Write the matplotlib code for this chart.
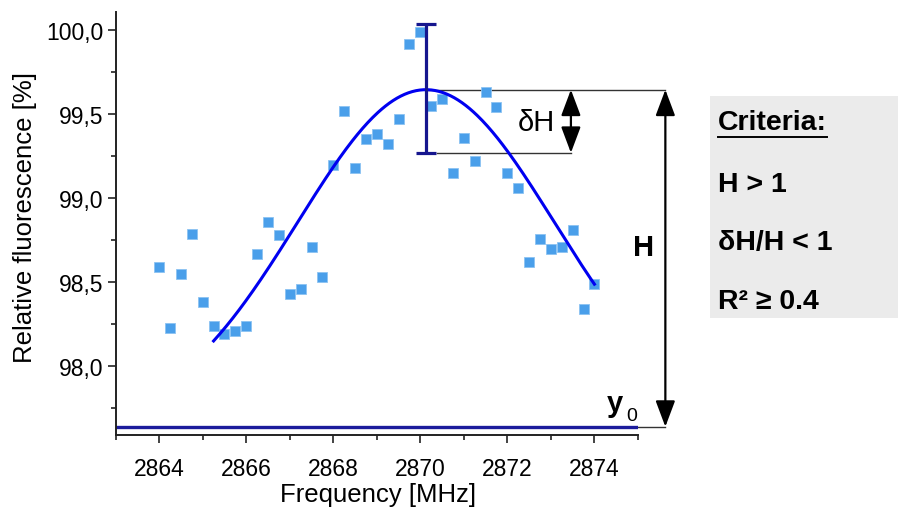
import matplotlib
matplotlib.use("Agg")
import matplotlib.pyplot as plt
from matplotlib.ticker import MultipleLocator, FuncFormatter
from matplotlib.lines import Line2D
from matplotlib.patches import Rectangle
import numpy as np

plt.rcParams['font.family'] = ['Liberation Sans', 'DejaVu Sans']

freq = [2864.0, 2864.25, 2864.5, 2864.75, 2865.0, 2865.25, 2865.5, 2865.75,
        2866.0, 2866.25, 2866.5, 2866.75, 2867.0, 2867.25, 2867.5, 2867.75,
        2868.0, 2868.25, 2868.5, 2868.75, 2869.0, 2869.25, 2869.5, 2869.75,
        2870.0, 2870.25, 2870.5, 2870.75, 2871.0, 2871.25, 2871.5, 2871.75,
        2872.0, 2872.25, 2872.5, 2872.75, 2873.0, 2873.25, 2873.5, 2873.75,
        2874.0]
fluor = [98.59, 98.23, 98.55, 98.79, 98.38, 98.24, 98.19, 98.21,
         98.24, 98.67, 98.86, 98.78, 98.43, 98.46, 98.71, 98.53,
         99.20, 99.52, 99.18, 99.35, 99.38, 99.32, 99.47, 99.92,
         99.99, 99.55, 99.59, 99.15, 99.36, 99.22, 99.63, 99.54,
         99.15, 99.06, 98.62, 98.76, 98.70, 98.71, 98.81, 98.34,
         98.49]

# gaussian fit parameters
fit_y0 = 97.64
fit_height = 2.006
fit_center = 2870.13
fit_sigma = 2.95
fit_range = [2865.25, 2874.0]

# error bar of the peak height
err_low = 99.27
err_high = 100.035

criteria = ["H > 1", "\u03b4H/H < 1", "R\u00b2 \u2265 0.4"]

fig = plt.figure(figsize=(8.98, 5.10), dpi=100)
ax = fig.add_axes([0.1288, 0.1451, 0.5816, 0.829])

peak = fit_y0 + fit_height
xf = np.linspace(fit_range[0], fit_range[1], 300)
yf = fit_y0 + fit_height * np.exp(-(xf - fit_center) ** 2 / (2 * fit_sigma ** 2))

ax.axhline(fit_y0, color='#1c1c9c', lw=2.4, zorder=2)
ax.plot(freq, fluor, 's', ms=7, color='#4a9fea', mec='#8cc3f2', mew=0.6, zorder=3)
ax.plot(xf, yf, color='#0000f0', lw=2.2, zorder=4)
ax.errorbar([fit_center], [peak], yerr=[[peak - err_low], [err_high - peak]],
            fmt='none', ecolor='#16168e', elinewidth=2.3, capsize=7.5, capthick=2.3, zorder=5)

ax.set_xlim(2863, 2875)
ax.set_ylim(97.591, 100.107)
ax.xaxis.set_major_locator(MultipleLocator(2))
ax.xaxis.set_minor_locator(MultipleLocator(1))
ax.yaxis.set_major_locator(MultipleLocator(0.5))
ax.yaxis.set_minor_locator(MultipleLocator(0.25))
ax.yaxis.set_major_formatter(FuncFormatter(lambda v, p: f"{v:.1f}".replace('.', ',')))
for s in ['top', 'right']:
    ax.spines[s].set_visible(False)
for s in ['left', 'bottom']:
    ax.spines[s].set_linewidth(1.4)
    ax.spines[s].set_color('#222222')
ax.tick_params(which='major', direction='out', length=6, width=1.2, labelsize=16.5, color='#222222')
ax.tick_params(which='minor', direction='out', length=3.5, width=1.2, color='#222222')
ax.tick_params(axis='y', pad=3)
ax.tick_params(axis='x', pad=10)
ax.set_xlabel('Frequency [MHz]', fontsize=18.5, va='center')
ax.set_ylabel('Relative fluorescence [%]', fontsize=18.5, va='center')
ax.xaxis.set_label_coords(0.502, -0.14)
ax.yaxis.set_label_coords(-0.174, 0.516)

# annotation: peak height H and its error dH
x_dh = 2873.46
x_h = 2875.63
ax.plot([fit_center, x_h], [peak, peak], color='#333333', lw=1.0, clip_on=False, zorder=1)
ax.plot([2870.38, x_dh], [err_low, err_low], color='#333333', lw=1.0, clip_on=False, zorder=1)
ax.plot([2874.25, x_h], [fit_y0, fit_y0], color='#333333', lw=1.0, clip_on=False, zorder=1)
arrow = dict(arrowstyle='<|-|>,head_length=0.8,head_width=0.3', mutation_scale=20,
             color='black', lw=1.6, shrinkA=0, shrinkB=0)
ax.annotate('', xy=(x_dh, peak), xytext=(x_dh, err_low), arrowprops=arrow, annotation_clip=False)
ax.annotate('', xy=(x_h, peak), xytext=(x_h, fit_y0), arrowprops=arrow, annotation_clip=False)
ax.text(2872.66, 99.456, '\u03b4H', fontsize=21, ha='center', va='center')
ax.text(2875.12, 98.71, 'H', fontsize=21, fontweight='bold', ha='center', va='center', clip_on=False)
ax.text(2874.47, 97.78, 'y', fontsize=21, fontweight='bold', ha='center', va='center')
ax.text(2874.86, 97.705, '0', fontsize=14, ha='center', va='center')

# criteria box
fig.patches.append(Rectangle((710 / 898, 1 - 319 / 510), 188 / 898, (319 - 97.3) / 510,
                             transform=fig.transFigure, facecolor='#ebebeb', edgecolor='none', zorder=0))
t = fig.text(718 / 898, 1 - 123 / 510, 'Criteria:', fontsize=20.5, fontweight='bold', va='center')
rows_y = [185, 243, 302]
for label, py in zip(criteria, rows_y):
    fig.text(718 / 898, 1 - py / 510, label, fontsize=20.5, fontweight='bold', va='center')

fig.canvas.draw()
bb = t.get_window_extent().transformed(fig.transFigure.inverted())
fig.lines.append(Line2D([bb.x0, bb.x1], [1 - 138 / 510, 1 - 138 / 510], transform=fig.transFigure,
                        color='black', lw=1.4))

fig.savefig('out.png', dpi=100)
